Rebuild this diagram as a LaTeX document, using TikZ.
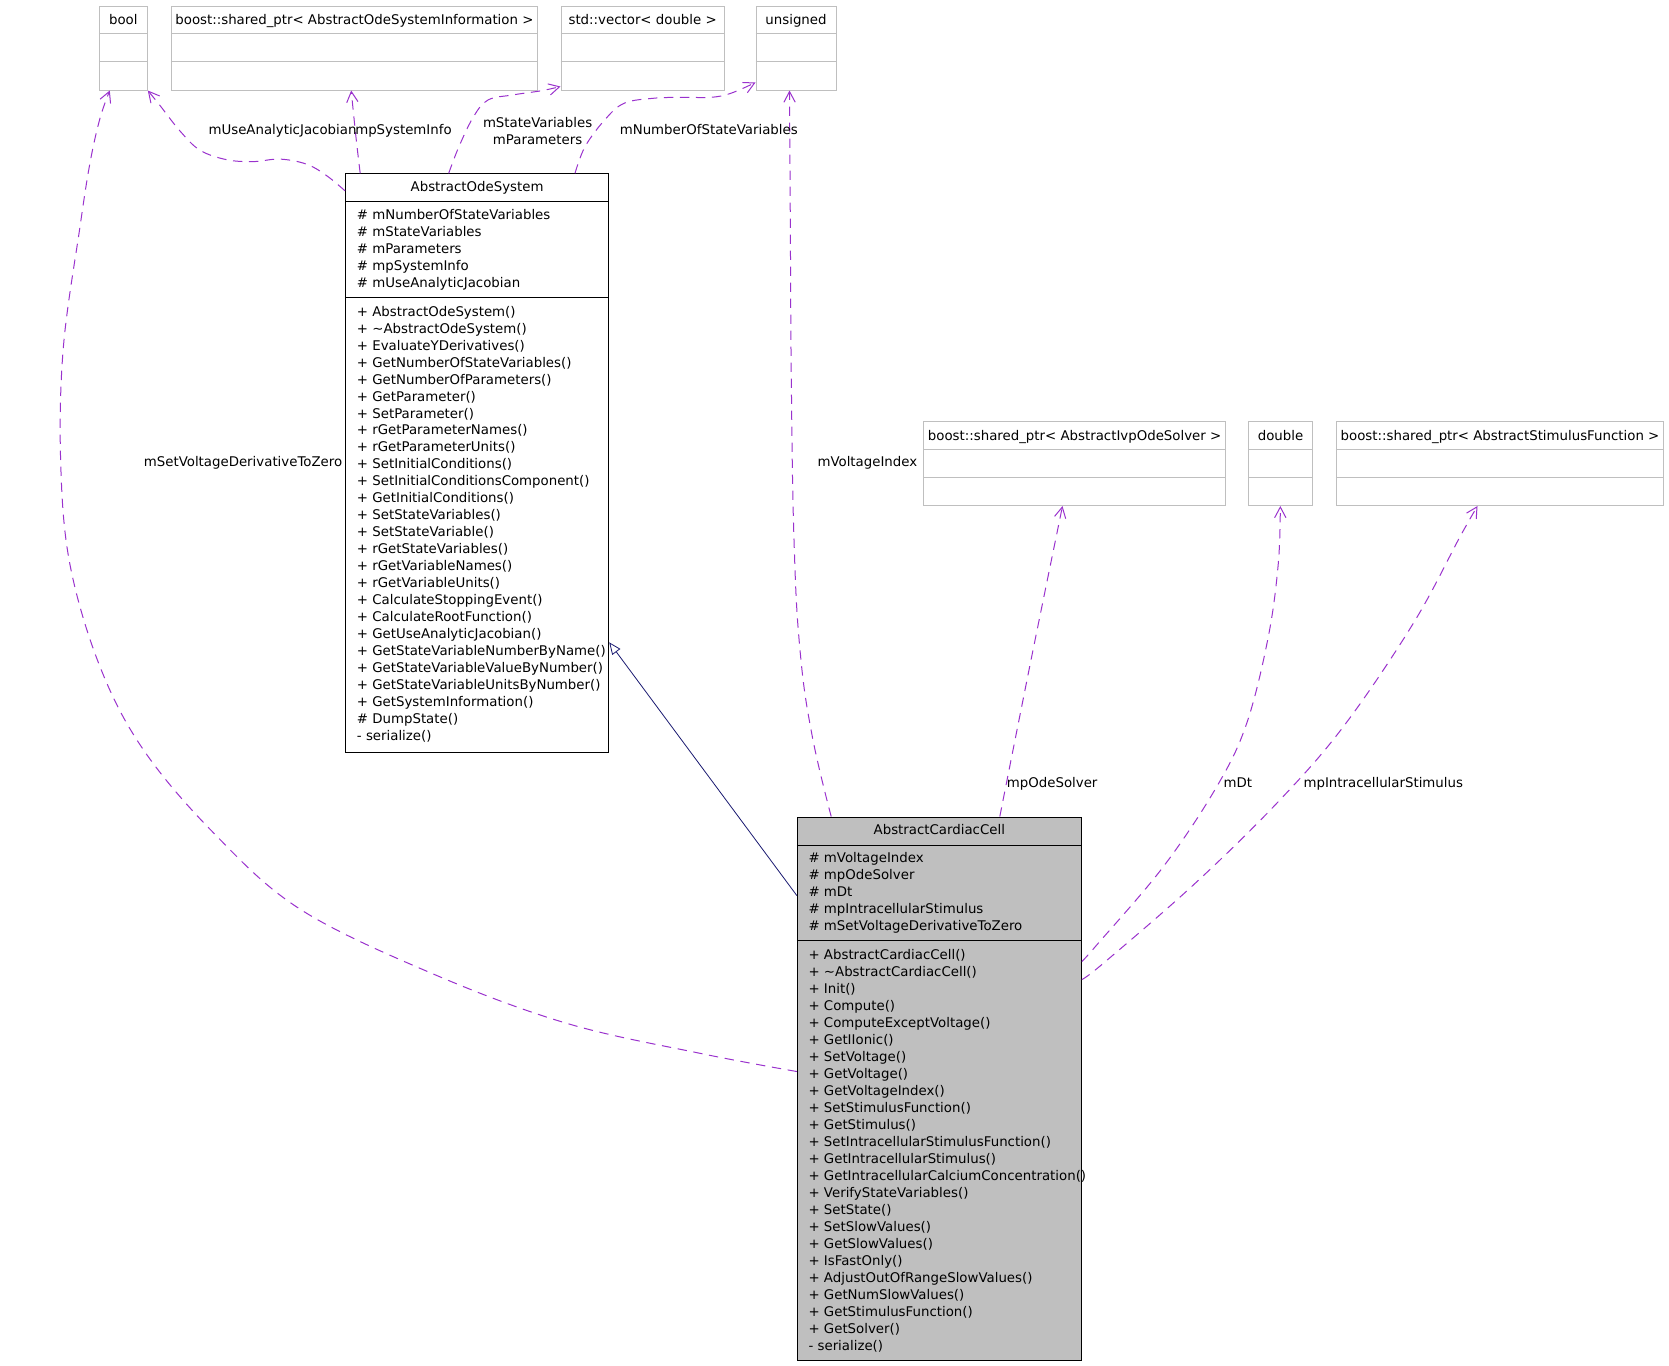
\documentclass[tikz,border=0pt]{standalone}
\usepackage{fontspec}
\setmainfont{DejaVu Sans}
\usetikzlibrary{arrows.meta,fit}
\definecolor{depcol}{HTML}{9A32CD}
\definecolor{inhcol}{HTML}{191970}
\definecolor{greyline}{HTML}{BFBFBF}
\definecolor{cellfill}{HTML}{BFBFBF}
\newcommand\typebox[5]{%
  \node[tbox, fit={(#2,#4) (#3,#4+84)}] (#1) {};
  \draw[tline] ([shift={(0,28)}]#1.north west) -- ([shift={(0,28)}]#1.north east);
  \draw[tline] ([shift={(0,56)}]#1.north west) -- ([shift={(0,56)}]#1.north east);
  \node[ctxt] (#1t) at ([shift={(0,19)}]#1.north) {#5};
}
\begin{document}
\begin{tikzpicture}[x=0.75pt,y=-0.75pt,
  every node/.style={font=\fontsize{10}{12}\selectfont, inner sep=0pt},
  ltxt/.style={anchor=base west},
  ctxt/.style={anchor=base},
  rtxt/.style={anchor=base east},
  tbox/.style={draw=greyline, line width=0.75pt, inner sep=0pt},
  tline/.style={draw=greyline, line width=0.75pt},
  cbox/.style={draw=black, line width=0.75pt, inner sep=0pt},
  sepline/.style={draw=black, line width=0.75pt},
  dep/.style={draw=depcol, line width=0.75pt, dash pattern=on 7pt off 5pt,
     -{Straight Barb[length=8pt,width=8.5pt,line width=0.75pt]}},
  inh/.style={draw=inhcol, line width=0.6pt, -{Triangle[open,length=9pt,width=7.5pt,fill=white]}},
]
\useasboundingbox (0,0) rectangle (1669,1365);

% ---------- type boxes ----------
\typebox{bool}{99.3}{147.3}{6}{bool}
\typebox{aosi}{171.3}{537.5}{6}{boost::shared\_ptr< AbstractOdeSystemInformation >}
\typebox{vec}{561}{724.3}{6}{std::vector< double >}
\typebox{uns}{756}{836}{6}{unsigned}
\typebox{ivp}{923.5}{1225.7}{421.5}{boost::shared\_ptr< AbstractIvpOdeSolver >}
\typebox{dbl}{1248.3}{1312.7}{421.5}{double}
\typebox{stim}{1336.3}{1663.7}{421.5}{boost::shared\_ptr< AbstractStimulusFunction >}

% ---------- AbstractOdeSystem ----------
\node[cbox, fill=white, fit={(345.5,173.8) (608.7,752)}] (aos) {};
\draw[sepline] ([shift={(0,28.5)}]aos.north west) -- ([shift={(0,28.5)}]aos.north east);
\draw[sepline] ([shift={(0,124.6)}]aos.north west) -- ([shift={(0,124.6)}]aos.north east);
\node[ctxt] (aost) at ([shift={(0,18.4)}]aos.north) {AbstractOdeSystem};
\foreach \t [count=\i] in {\# mNumberOfStateVariables, \# mStateVariables, \# mParameters,
  \# mpSystemInfo, \# mUseAnalyticJacobian}
  \node[ltxt] (aosa\i) at (356.7, 219.9+17*\i-17) {\t};
\foreach \t [count=\i] in {+ AbstractOdeSystem(), + \textasciitilde AbstractOdeSystem(),
  + EvaluateYDerivatives(), + GetNumberOfStateVariables(), + GetNumberOfParameters(),
  + GetParameter(), + SetParameter(), + rGetParameterNames(), + rGetParameterUnits(),
  + SetInitialConditions(), + SetInitialConditionsComponent(), + GetInitialConditions(),
  + SetStateVariables(), + SetStateVariable(), + rGetStateVariables(),
  + rGetVariableNames(), + rGetVariableUnits(), + CalculateStoppingEvent(),
  + CalculateRootFunction(), + GetUseAnalyticJacobian(), + GetStateVariableNumberByName(),
  + GetStateVariableValueByNumber(), + GetStateVariableUnitsByNumber(),
  + GetSystemInformation(), \# DumpState(), - serialize()}
  \node[ltxt] (aosm\i) at (356.7, 316.3+16.95*\i-16.95) {\t};

% ---------- AbstractCardiacCell ----------
\node[cbox, fill=cellfill, fit={(797.3,817) (1081.3,1360)}] (acc) {};
\draw[sepline] ([shift={(0,28.7)}]acc.north west) -- ([shift={(0,28.7)}]acc.north east);
\draw[sepline] ([shift={(0,124)}]acc.north west) -- ([shift={(0,124)}]acc.north east);
\node[ctxt] (acct) at ([shift={(0,17.8)}]acc.north) {AbstractCardiacCell};
\foreach \t [count=\i] in {\# mVoltageIndex, \# mpOdeSolver, \# mDt,
  \# mpIntracellularStimulus, \# mSetVoltageDerivativeToZero}
  \node[ltxt] (acca\i) at (808.3, 862.9+17*\i-17) {\t};
\foreach \t [count=\i] in {+ AbstractCardiacCell(), + \textasciitilde AbstractCardiacCell(),
  + Init(), + Compute(), + ComputeExceptVoltage(), + GetIIonic(), + SetVoltage(),
  + GetVoltage(), + GetVoltageIndex(), + SetStimulusFunction(), + GetStimulus(),
  + SetIntracellularStimulusFunction(), + GetIntracellularStimulus(),
  + GetIntracellularCalciumConcentration(), + VerifyStateVariables(), + SetState(),
  + SetSlowValues(), + GetSlowValues(), + IsFastOnly(), + AdjustOutOfRangeSlowValues(),
  + GetNumSlowValues(), + GetStimulusFunction(), + GetSolver(), - serialize()}
  \node[ltxt] (accm\i) at (808.3, 959.4+17*\i-17) {\t};

% ---------- inheritance ----------
\draw[inh] ([shift={(0,79)}]acc.north west) -- ([shift={(0,469)}]aos.north east);

% ---------- usage relations ----------
\draw[dep] plot[smooth, tension=0.6] coordinates {([shift={(0,17.5)}]aos.north west)
  (326.7,175.7) (306.7,164.2) (280,159.1) (253.3,161.6) (226.7,159.7) (200,150.2)
  (180,131) (160,105.5) (bool.south east)};
\draw[dep] plot[smooth, tension=0.6] coordinates {([shift={(15.2,0)}]aos.north west)
  (356,137.4) ([shift={(180.4,0)}]aosi.south west)};
\draw[dep] plot[smooth, tension=0.6] coordinates {([shift={(103.7,0)}]aos.north west)
  (458.9,146.7) (473.5,116.7) (488,100) (512.3,95) (541.5,90.7) ([shift={(0,-4)}]vec.south west)};
\draw[dep] plot[smooth, tension=0.6] coordinates {([shift={(230,0)}]aos.north west)
  (585,146.7) (604.6,120) (624,103.3) (653,98.3) (682,97.3) (711,97.3) (730.8,93.3)
  ([shift={(0,-8)}]uns.south west)};
\draw[dep] plot[smooth, tension=0.7] coordinates {([shift={(34.4,0)}]acc.north west)
  (812,735) (800,650) (794,540) (791.3,380) (790.3,220)
  ([shift={(34,0)}]uns.south west)};
\draw[dep] plot[smooth, tension=0.6] coordinates {([shift={(203,0)}]acc.north west)
  (1031,660) ([shift={(139.5,0)}]ivp.south west)};
\draw[dep] plot[smooth, tension=0.6] coordinates {([shift={(0,145)}]acc.north east)
  (1096.7,945) (1163.3,866.7) (1216.7,786.7) (1246.7,723.3) (1268.3,636.7) (1278.3,563.3)
  ([shift={(32.5,0)}]dbl.south west)};
\draw[dep] plot[smooth, tension=0.6] coordinates {([shift={(0,163)}]acc.north east)
  (1103.3,963.3) (1193.3,885) (1276.7,803.3) (1343.3,726.7) (1413.3,623.3) (1460,536.7)
  ([shift={(141.7,0)}]stim.south west)};
\draw[dep] plot[smooth, tension=0.6] coordinates {([shift={(0,255)}]acc.north west)
  (700,1053.3) (566.7,1023.3) (433.3,974) (300,909.1) (213.3,832.6) (143.3,749.6)
  (100,666.7) (70,564.7) (60.7,462.7) (63.3,347.9) (80,226.7) (90,162.9) (100,118.3)
  ([shift={(11,0)}]bool.south west)};

% ---------- labels ----------
\node[ltxt] (luaj) at (208.3,134.8) {mUseAnalyticJacobian};
\node[ltxt] (lpsi) at (355,134.8) {mpSystemInfo};
\node[ctxt] (lsv) at (537.6,127.5) {mStateVariables};
\node[ctxt] (lpar) at (537.6,144.8) {mParameters};
\node[ctxt] (lnsv) at (708.8,134.8) {mNumberOfStateVariables};
\node[rtxt] (lvi) at (917.5,466.8) {mVoltageIndex};
\node[rtxt] (lsvd) at (342.5,466.8) {mSetVoltageDerivativeToZero};
\node[rtxt] (lode) at (1097.7,787.3) {mpOdeSolver};
\node[ltxt] (ldt) at (1223.3,787.3) {mDt};
\node[ltxt] (lpis) at (1303.3,787.3) {mpIntracellularStimulus};
\end{tikzpicture}
\end{document}
